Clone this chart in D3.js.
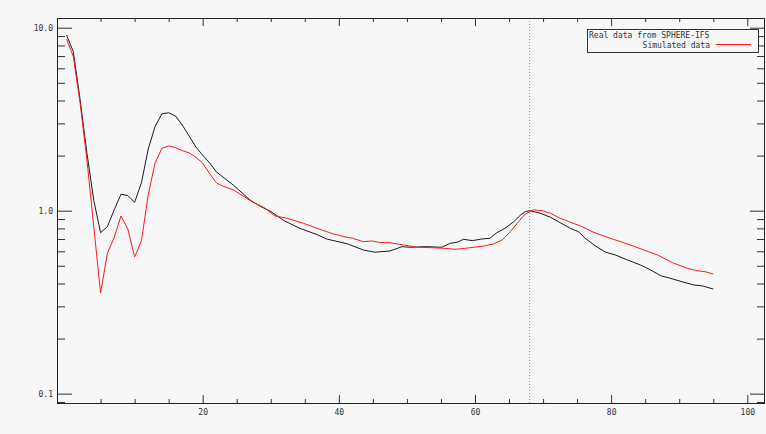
<!DOCTYPE html>
<html>
<head>
<meta charset="utf-8">
<script src="https://cdn.jsdelivr.net/npm/d3@7/dist/d3.min.js"></script>
<style>
  html, body { margin: 0; padding: 0; background: #f7f7f7; }
  svg { display: block; }
  text { font-family: "DejaVu Sans Mono", "Liberation Mono", monospace; font-size: 8px; fill: #333; }
</style>
</head>
<body>
<script>
// ---- data ----
const realX = [0,1,2,3,4,5,6,7,8,9,10,11,12,13,14,15,16,17,18,19,20,21,22,24.5,27,28.4,30,32,34.3,36.8,38.2,41.2,43.6,45.3,47.5,49.3,50.5,52.9,55.1,56.4,57.4,58.3,59.6,61,62.2,63.2,64.4,65.7,66.7,67.4,68.1,69.6,71.1,72.5,74,75.2,76.2,77.7,79.2,80.6,82.4,84.3,85.8,87.3,88.7,90.7,92.1,93.4,95];
const realY = [9.12,7.39,4.03,2.06,1.14,0.758,0.818,1.01,1.23,1.21,1.11,1.42,2.17,2.88,3.38,3.43,3.29,2.94,2.56,2.23,2.01,1.83,1.63,1.38,1.14,1.06,0.99,0.88,0.80,0.74,0.70,0.66,0.61,0.593,0.602,0.636,0.631,0.636,0.631,0.664,0.672,0.698,0.686,0.70,0.707,0.758,0.801,0.871,0.947,0.988,1.0,0.968,0.920,0.860,0.801,0.768,0.706,0.641,0.593,0.573,0.538,0.505,0.474,0.441,0.427,0.406,0.393,0.388,0.373];
const simX = [0,1,2,3,4,5,6,7,8,9,10,11,12,13,14,15,16,17,18,19,20,21,22,23,24.5,26,27.4,29,30.6,32.4,34.8,36.8,39.2,41.2,42,43.6,44.9,46.1,47.1,49.5,51.5,53.4,55.4,57.1,58.6,61.3,62.7,64,65.2,66.4,67.4,68.6,69.9,71.1,72.5,74,75.5,77.2,79.4,81.4,82.8,84.8,86.8,89,91.2,92.6,93.8,95];
const simY = [8.68,6.94,3.86,1.89,0.818,0.355,0.585,0.714,0.936,0.794,0.558,0.683,1.22,1.82,2.19,2.26,2.21,2.13,2.07,1.96,1.82,1.60,1.42,1.36,1.30,1.20,1.11,1.04,0.936,0.909,0.853,0.801,0.746,0.716,0.707,0.677,0.683,0.669,0.672,0.650,0.631,0.628,0.623,0.615,0.623,0.641,0.658,0.692,0.768,0.871,0.959,1.01,1.0,0.968,0.909,0.865,0.825,0.768,0.716,0.677,0.650,0.610,0.573,0.520,0.484,0.470,0.464,0.451];
const xMajorTicks = [20,40,60,80,100];
const xMinorTicks = [5,10,15,25,30,35,45,50,55,65,70,75,85,90,95];
const yMajorTicks = [0.1,1,10];
const yMinorTicks = [0.09,0.2,0.3,0.4,0.5,0.6,0.7,0.8,0.9,2,3,4,5,6,7,8,9];
const markerX = 68;
const legendLabels = ["Real data from SPHERE-IFS", "Simulated data"];

// ---- layout ----
const W = 766, H = 434;
const L = 57, R = 765, T = 18, B = 403;

const svg = d3.select("body").append("svg").attr("width", W).attr("height", H);
svg.append("rect").attr("width", W).attr("height", H).attr("fill", "#f7f7f7");

const x = d3.scaleLinear().domain([-1.4, 102.6]).range([L, R]);
const y = d3.scaleLog().domain([0.0889, 11.3]).range([B, T]);

// marker dotted line
svg.append("line")
  .attr("x1", Math.round(x(markerX)) + 0.5).attr("x2", Math.round(x(markerX)) + 0.5)
  .attr("y1", T).attr("y2", B)
  .attr("stroke", "#999").attr("stroke-width", 1).attr("stroke-dasharray", "1,2");

// axes via d3 axis generators
function styleAxis(g) {
  g.select(".domain").remove();
  g.selectAll(".tick line").attr("stroke", "#333");
  g.selectAll(".tick text").attr("fill", "#333").style("font-size", "8px")
    .style("font-family", '"DejaVu Sans Mono", monospace');
}
// bottom
svg.append("g").attr("transform", `translate(0,${B})`)
  .call(d3.axisBottom(x).tickValues(xMinorTicks).tickSize(-4).tickSizeOuter(0).tickFormat(""))
  .call(styleAxis);
svg.append("g").attr("transform", `translate(0,${B})`)
  .call(d3.axisBottom(x).tickValues(xMajorTicks).tickSize(-8).tickSizeOuter(0).tickPadding(6).tickFormat(d3.format("d")))
  .call(styleAxis);
// top
svg.append("g").attr("transform", `translate(0,${T})`)
  .call(d3.axisTop(x).tickValues(xMinorTicks).tickSize(-4).tickSizeOuter(0).tickFormat(""))
  .call(styleAxis);
svg.append("g").attr("transform", `translate(0,${T})`)
  .call(d3.axisTop(x).tickValues(xMajorTicks).tickSize(-8).tickSizeOuter(0).tickFormat(""))
  .call(styleAxis);
// left
svg.append("g").attr("transform", `translate(${L},0)`)
  .call(d3.axisLeft(y).tickValues(yMinorTicks).tickSize(-8).tickSizeOuter(0).tickFormat(""))
  .call(styleAxis);
svg.append("g").attr("transform", `translate(${L},0)`)
  .call(d3.axisLeft(y).tickValues(yMajorTicks).tickSize(-15).tickSizeOuter(0).tickPadding(4).tickFormat(d3.format(".1f")))
  .call(styleAxis);
// right
svg.append("g").attr("transform", `translate(${R},0)`)
  .call(d3.axisRight(y).tickValues(yMinorTicks).tickSize(-8).tickSizeOuter(0).tickFormat(""))
  .call(styleAxis);
svg.append("g").attr("transform", `translate(${R},0)`)
  .call(d3.axisRight(y).tickValues(yMajorTicks).tickSize(-15).tickSizeOuter(0).tickFormat(""))
  .call(styleAxis);

// frame
svg.append("rect").attr("x", L + 0.5).attr("y", T + 0.5).attr("width", R - L - 1).attr("height", B - T)
  .attr("fill", "none").attr("stroke", "#222").attr("stroke-width", 1);

// curves
const line = d3.line().x(d => x(d[0])).y(d => y(d[1]));
svg.append("path").datum(realX.map((v, i) => [v, realY[i]]))
  .attr("d", line).attr("fill", "none").attr("stroke", "#1a1a1a").attr("stroke-width", 1);
svg.append("path").datum(simX.map((v, i) => [v, simY[i]]))
  .attr("d", line).attr("fill", "none").attr("stroke", "#ff1a1a").attr("stroke-width", 1);

// legend
const lg = svg.append("g");
lg.append("rect").attr("x", 587.5).attr("y", 29.5).attr("width", 171).attr("height", 23)
  .attr("fill", "#f7f7f7").attr("stroke", "#333").attr("stroke-width", 1);
lg.append("text").attr("x", 589).attr("y", 38).text(legendLabels[0]);
lg.append("text").attr("x", 710).attr("y", 47.5).attr("text-anchor", "end").text(legendLabels[1]);
lg.append("line").attr("x1", 716).attr("x2", 751).attr("y1", 44.5).attr("y2", 44.5)
  .attr("stroke", "#ff1a1a").attr("stroke-width", 1);
</script>
</body>
</html>
